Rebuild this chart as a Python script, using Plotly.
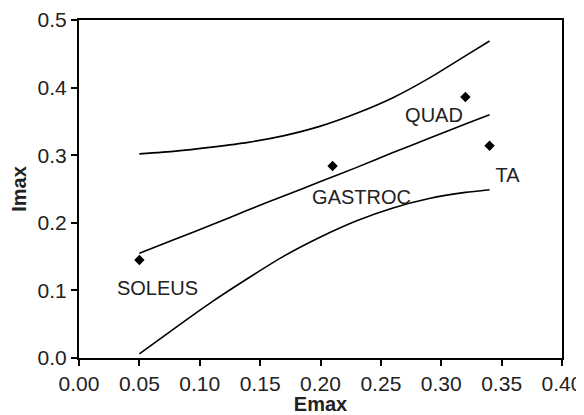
import plotly.graph_objects as go

# Data points
muscles = ["SOLEUS", "GASTROC", "QUAD", "TA"]
emax = [0.05, 0.21, 0.32, 0.34]
imax = [0.145, 0.284, 0.386, 0.314]

# Regression line and confidence bands
band_x = [0.05, 0.08, 0.11, 0.14, 0.17, 0.20, 0.23, 0.26, 0.29, 0.32, 0.34]
fit_y = [0.155, 0.176, 0.197, 0.219, 0.240, 0.261, 0.282, 0.304, 0.325, 0.346, 0.360]
upper_y = [0.302, 0.306, 0.312, 0.319, 0.329, 0.343, 0.362, 0.385, 0.414, 0.447, 0.469]
lower_y = [0.006, 0.045, 0.083, 0.118, 0.151, 0.179, 0.203, 0.222, 0.236, 0.245, 0.249]

# Label positions
label_x = [0.065, 0.234, 0.294, 0.355]
label_y = [0.101, 0.235, 0.356, 0.268]

FONT = "Liberation Sans, Arial, sans-serif"

fig = go.Figure()
line_style = dict(color="black", width=1.6, shape="spline", smoothing=0.6)
for ys in (upper_y, fit_y, lower_y):
    fig.add_trace(go.Scatter(x=band_x, y=ys, mode="lines", line=line_style,
                             showlegend=False, hoverinfo="skip"))

fig.add_trace(go.Scatter(x=emax, y=imax, mode="markers",
                         marker=dict(symbol="diamond", color="black", size=8),
                         showlegend=False))

fig.add_trace(go.Scatter(x=label_x, y=label_y, mode="text", text=muscles,
                         textfont=dict(family=FONT, size=20, color="#222"),
                         showlegend=False, hoverinfo="skip"))

axis_common = dict(showgrid=False, zeroline=False, showline=True, linecolor="black",
                   linewidth=2, mirror=True, ticks="outside", ticklen=6,
                   tickwidth=2, tickcolor="black", automargin=False,
                   tickfont=dict(family=FONT, size=21, color="#222"))

# page body has an 8px margin, so the figure is made 8px smaller and margins shifted
fig.update_layout(
    width=576, height=407,
    margin=dict(l=71, r=22, t=12, b=57),
    paper_bgcolor="white", plot_bgcolor="white",
    xaxis=dict(range=[0, 0.4], tickvals=[0, 0.05, 0.1, 0.15, 0.2, 0.25, 0.3, 0.35, 0.4],
               tickformat=".2f",
               title=dict(text="<b>Emax</b>", font=dict(family=FONT, size=20, color="#222"),
                          standoff=6),
               **axis_common),
    yaxis=dict(range=[0, 0.5], tickvals=[0, 0.1, 0.2, 0.3, 0.4, 0.5], tickformat=".1f",
               title=dict(text="<b>Imax</b>", font=dict(family=FONT, size=20, color="#222"),
                          standoff=12),
               **axis_common),
)

fig.write_html("out.html")
